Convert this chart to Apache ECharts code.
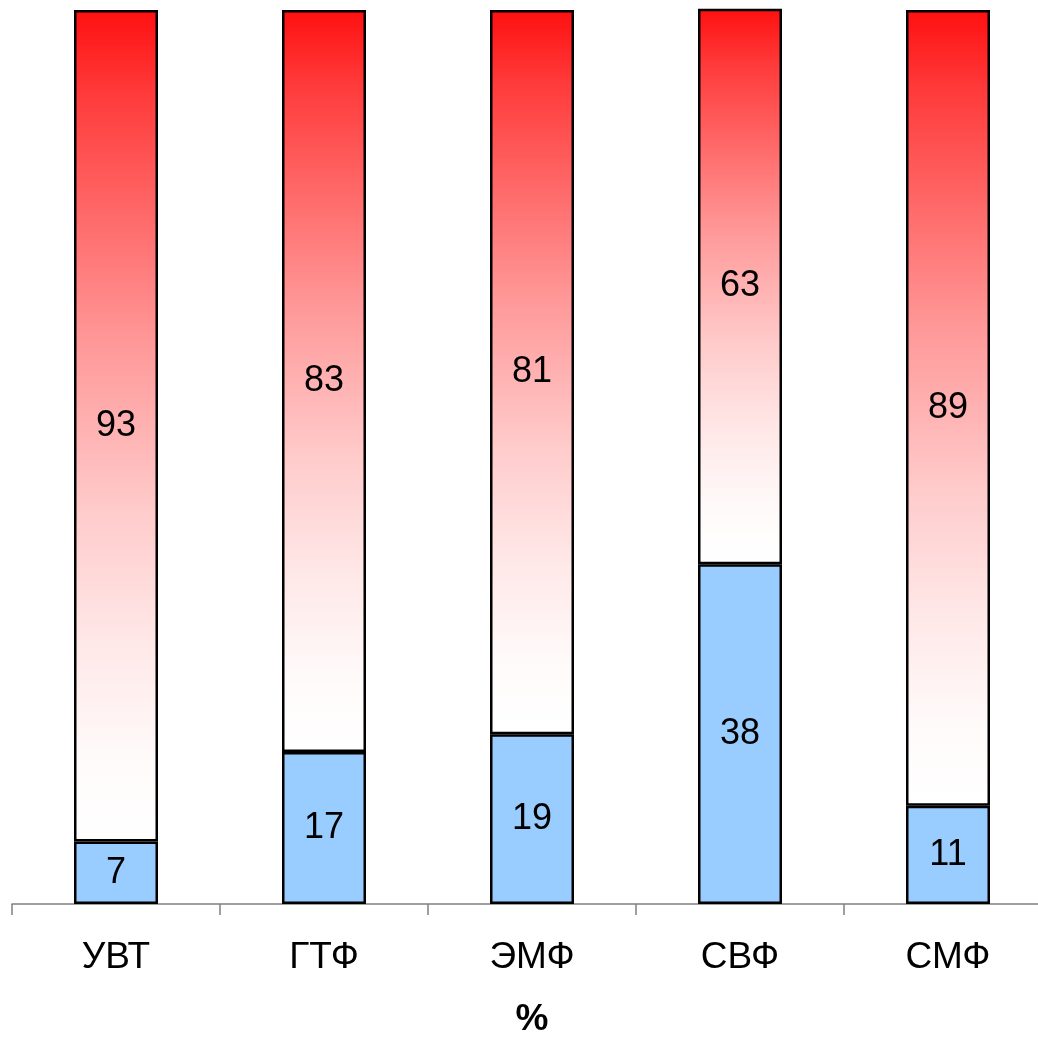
<!DOCTYPE html>
<html>
<head>
<meta charset="utf-8">
<script src="https://cdn.jsdelivr.net/npm/echarts@6/dist/echarts.min.js"></script>
<style>
html,body{margin:0;padding:0;background:#fff;}
#c{width:1038px;height:1037px;}
</style>
</head>
<body>
<div id="c"></div>
<script>
const categories = ['УВТ', 'ГТФ', 'ЭМФ', 'СВФ', 'СМФ'];
const blueValues = [7, 17, 19, 38, 11];
const redValues = [93, 83, 81, 63, 89];
const axisName = '%';

const FONT = '"Liberation Sans", Arial, sans-serif';
const chart = echarts.init(document.getElementById('c'));

const redGradient = {
  type: 'linear', x: 0, y: 0, x2: 0, y2: 1,
  colorStops: [
    {offset: 0, color: '#ff1010'},
    {offset: 0.1, color: '#ff3a3a'},
    {offset: 0.25, color: '#ff6a6a'},
    {offset: 0.4, color: '#ff9898'},
    {offset: 0.6, color: '#ffcaca'},
    {offset: 0.75, color: '#ffe6e6'},
    {offset: 0.9, color: '#fffafa'},
    {offset: 1, color: '#ffffff'}
  ]
};

chart.setOption({
  animation: false,
  backgroundColor: '#ffffff',
  grid: {left: 12, width: 1040, top: 10, bottom: 133, containLabel: false, outerBoundsMode: 'none'},
  xAxis: {
    type: 'category',
    data: categories,
    name: axisName,
    nameLocation: 'middle',
    nameGap: 97,
    nameTextStyle: {fontFamily: FONT, fontSize: 37, fontWeight: 'bold', color: '#000'},
    axisLine: {show: true, lineStyle: {color: '#808080', width: 1.5}},
    axisTick: {show: true, length: 11, lineStyle: {color: '#808080', width: 1.5}},
    axisLabel: {fontFamily: FONT, fontSize: 37, color: '#000', margin: 35}
  },
  yAxis: {type: 'value', min: 0, max: 100, show: false},
  series: [
    {
      type: 'bar', stack: 's', barWidth: 84,
      data: blueValues,
      itemStyle: {color: '#99ccff', borderColor: '#000', borderWidth: 2.5},
      label: {show: true, position: 'inside', fontFamily: FONT, fontSize: 36, color: '#000'}
    },
    {
      type: 'bar', stack: 's', barWidth: 84,
      data: redValues,
      itemStyle: {color: redGradient, borderColor: '#000', borderWidth: 2.5},
      label: {show: true, position: 'inside', fontFamily: FONT, fontSize: 36, color: '#000'}
    }
  ]
});
</script>
</body>
</html>
